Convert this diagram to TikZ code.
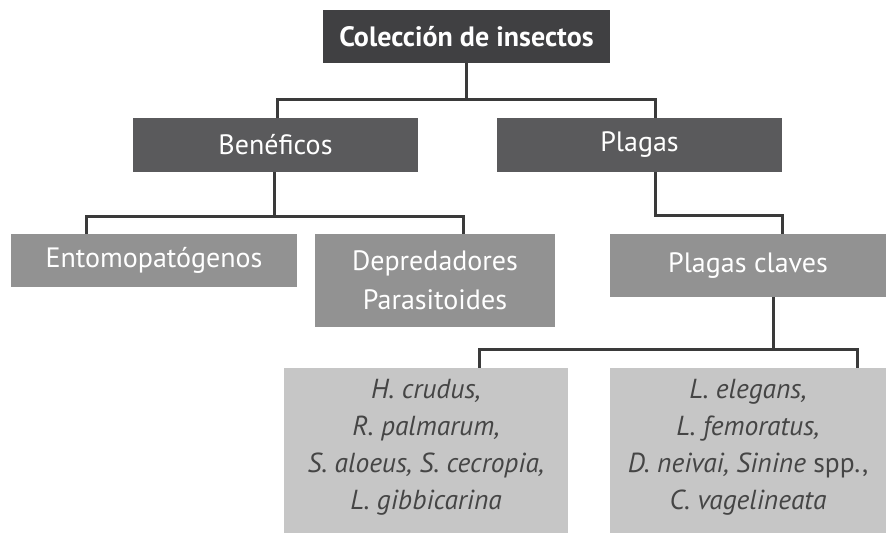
\documentclass[tikz,border=0pt]{standalone}
\usepackage{fontspec}
\setmainfont{PT Sans}
\definecolor{cTop}{HTML}{404042}
\definecolor{cMid}{HTML}{5A5A5C}
\definecolor{cLow}{HTML}{929292}
\definecolor{cLeaf}{HTML}{C6C6C6}
\definecolor{cLine}{HTML}{3A3A3A}
\definecolor{cLeafText}{HTML}{454545}
\begin{document}
\begin{tikzpicture}[x=1pt,y=-1pt,
  box/.style={rectangle, inner sep=0pt, align=center},
  lvltop/.style={box, fill=cTop, text=white, font=\fontsize{28}{32}\selectfont\bfseries},
  lvlmid/.style={box, fill=cMid, text=white, font=\fontsize{28}{32}\selectfont},
  lvllow/.style={box, fill=cLow, text=white, font=\fontsize{28}{39}\selectfont},
  lvlleaf/.style={box, fill=cLeaf, text=cLeafText, font=\fontsize{27.5}{37}\selectfont},
  conn/.style={draw=cLine, line width=3pt}]
\useasboundingbox (0,0) rectangle (886,533);
\node[lvltop, minimum width=287pt, minimum height=53pt] (top) at (466.5,36.5) {Colección de insectos};
\node[lvlmid, minimum width=285pt, minimum height=54pt] (ben) at (275.5,145) {Benéficos};
\node[lvlmid, minimum width=285pt, minimum height=54pt] (pla) at (639.5,145) {Plagas};
\node[lvllow, minimum width=286pt, minimum height=53pt] (ento) at (154,260.5) {Entomopatógenos};
\node[lvllow, minimum width=240pt, minimum height=93pt] (dep) at (435,280.5) {Depredadores\\Parasitoides};
\node[lvllow, minimum width=276pt, minimum height=63pt] (pc) at (748,265.5) {Plagas claves};
\node[lvlleaf, minimum width=284pt, minimum height=165pt] (ll) at (426,450.5)
  {\textit{H. crudus,}\\\textit{R. palmarum,}\\\textit{S. aloeus, S. cecropia,}\\\textit{L. gibbicarina}\rule[-12pt]{0pt}{12pt}};
\node[lvlleaf, minimum width=276pt, minimum height=165pt] (lr) at (748,450.5)
  {\textit{L. elegans,}\\\textit{L. femoratus,}\\\textit{D. neivai, Sinine} spp.,\\\textit{C. vagelineata}\rule[-12pt]{0pt}{12pt}};
\coordinate (j1) at (466.5,99);
\coordinate (j2) at (274,216);
\coordinate (j3) at (655,215);
\coordinate (j4) at (773,349);
\draw[conn] (top.south) -- (j1);
\draw[conn] ([xshift=1.5pt]ben.north) |- (j1) -| ([xshift=15.5pt]pla.north);
\draw[conn] (ben.south -| j2) -- (j2);
\draw[conn] ([xshift=-68pt]ento.north) |- (j2) -| ([xshift=28pt]dep.north);
\draw[conn] (pla.south -| j3) -- (j3) -| ([xshift=34pt]pc.north);
\draw[conn] (pc.south -| j4) -- (j4);
\draw[conn] ([xshift=53pt]ll.north) |- (j4) -| ([xshift=109pt]lr.north);
\end{tikzpicture}
\end{document}
